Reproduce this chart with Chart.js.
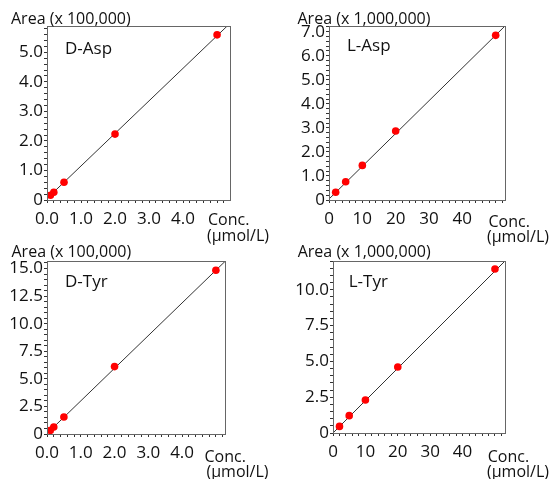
<!DOCTYPE html>
<html>
<head>
<meta charset="utf-8">
<script src="https://cdn.jsdelivr.net/npm/chart.js@4.4.1/dist/chart.umd.min.js"></script>
<style>
  html, body { margin: 0; padding: 0; background: #fff; }
  #wrap { position: relative; width: 554px; height: 479px; }
  #wrap canvas { position: absolute; left: 0; top: 0; }
</style>
</head>
<body>
<div id="wrap">
  <canvas id="dAsp" width="554" height="479"></canvas>
  <canvas id="lAsp" width="554" height="479"></canvas>
  <canvas id="dTyr" width="554" height="479"></canvas>
  <canvas id="lTyr" width="554" height="479"></canvas>
</div>
<script>
// calibration points, conc in umol/L, area in the unit of each panel title
const dAspConc = [0.1, 0.2, 0.5, 2, 5];
const dAspArea = [0.16, 0.26, 0.60, 2.23, 5.59];
const dAspFitConc = [0, 5.38];
const dAspFitArea = [0.05, 5.98];

const lAspConc = [2, 5, 10, 20, 50];
const lAspArea = [0.32, 0.76, 1.44, 2.87, 6.85];
const lAspFitConc = [0, 52.8];
const lAspFitArea = [0.04, 7.24];

const dTyrConc = [0.1, 0.2, 0.5, 2, 5];
const dTyrArea = [0.33, 0.63, 1.54, 6.11, 14.84];
const dTyrFitConc = [0, 5.27];
const dTyrFitArea = [0.04, 15.64];

const lTyrConc = [2, 5, 10, 20, 50];
const lTyrArea = [0.46, 1.21, 2.30, 4.60, 11.44];
const lTyrFitConc = [0, 53.1];
const lTyrFitArea = [0, 12.0];

// tick labels
const smallConcTicks = [0, 1, 2, 3, 4];
const smallConcLabels = ['0.0', '1.0', '2.0', '3.0', '4.0'];
const bigConcTicks = [0, 10, 20, 30, 40];
const bigConcLabels = ['0', '10', '20', '30', '40'];
const dAspAreaTicks = [0, 1, 2, 3, 4, 5];
const dAspAreaLabels = ['0', '1.0', '2.0', '3.0', '4.0', '5.0'];
const lAspAreaTicks = [0, 1, 2, 3, 4, 5, 6, 7];
const lAspAreaLabels = ['0', '1.0', '2.0', '3.0', '4.0', '5.0', '6.0', '7.0'];
const dTyrAreaTicks = [0, 2.5, 5, 7.5, 10, 12.5, 15];
const dTyrAreaLabels = ['0', '2.5', '5.0', '7.5', '10.0', '12.5', '15.0'];
const lTyrAreaTicks = [0, 2.5, 5, 7.5, 10];
const lTyrAreaLabels = ['0', '2.5', '5.0', '7.5', '10.0'];

const FONT = '"Open Sans", "Noto Sans", sans-serif';
const Y_W = 44, X_H = 30;

const panels = [
  { id: 'dAsp', name: 'D-Asp', title: 'Area (x 100,000)',
    conc: dAspConc, area: dAspArea, fitConc: dAspFitConc, fitArea: dAspFitArea,
    xMax: 5.38, xMinor: 0.2, xTicks: smallConcTicks, xLabels: smallConcLabels,
    yMax: 5.89, yMinor: 0.2, yTicks: dAspAreaTicks, yLabels: dAspAreaLabels,
    box: { l: 47, t: 26, r: 230, b: 200 },
    titlePos: [11, 23.5], namePos: [65, 54], concPos: [208, 225], unitPos: [207, 240.5] },
  { id: 'lAsp', name: 'L-Asp', title: 'Area (x 1,000,000)',
    conc: lAspConc, area: lAspArea, fitConc: lAspFitConc, fitArea: lAspFitArea,
    xMax: 52.8, xMinor: 2, xTicks: bigConcTicks, xLabels: bigConcLabels,
    yMax: 7.24, yMinor: 0.2, yTicks: lAspAreaTicks, yLabels: lAspAreaLabels,
    box: { l: 329, t: 26, r: 505, b: 200 },
    titlePos: [297.5, 23.5], namePos: [347, 50.5], concPos: [488.5, 226.5], unitPos: [487, 242] },
  { id: 'dTyr', name: 'D-Tyr', title: 'Area (x 100,000)',
    conc: dTyrConc, area: dTyrArea, fitConc: dTyrFitConc, fitArea: dTyrFitArea,
    xMax: 5.27, xMinor: 0.2, xTicks: smallConcTicks, xLabels: smallConcLabels,
    yMax: 15.68, yMinor: 0.5, yTicks: dTyrAreaTicks, yLabels: dTyrAreaLabels,
    box: { l: 47, t: 261, r: 225, b: 434 },
    titlePos: [11.5, 256.7], namePos: [65, 286.7], concPos: [204.5, 461.7], unitPos: [206.5, 477] },
  { id: 'lTyr', name: 'L-Tyr', title: 'Area (x 1,000,000)',
    conc: lTyrConc, area: lTyrArea, fitConc: lTyrFitConc, fitArea: lTyrFitArea,
    xMax: 53.1, xMinor: 2, xTicks: bigConcTicks, xLabels: bigConcLabels,
    yMax: 12.0, yMinor: 0.5, yTicks: lTyrAreaTicks, yLabels: lTyrAreaLabels,
    box: { l: 333, t: 261, r: 505, b: 433 },
    titlePos: [297.7, 257], namePos: [348.7, 286.7], concPos: [487.7, 461.7], unitPos: [487, 477] }
];

// frame round the plot plus the free texts
const frameAndText = {
  id: 'frameAndText',
  afterDraw(chart) {
    const p = chart.options.plugins.frameAndText;
    const { ctx, chartArea: a } = chart;
    ctx.save();
    ctx.strokeStyle = '#666';
    ctx.lineWidth = 1;
    const l = Math.round(a.left - 0.5) + 0.5, r = Math.round(a.right - 0.5) + 0.5;
    const t = Math.round(a.top - 0.5) + 0.5, b = Math.round(a.bottom - 0.5) + 0.5;
    ctx.strokeRect(l, t, r - l, b - t);
    ctx.fillStyle = '#111';
    ctx.textBaseline = 'alphabetic';
    ctx.textAlign = 'left';
    ctx.font = '16px ' + FONT;
    ctx.fillText(p.title, p.titlePos[0], p.titlePos[1]);
    ctx.fillText('Conc.', p.concPos[0], p.concPos[1]);
    ctx.fillText('(\u00b5mol/L)', p.unitPos[0], p.unitPos[1]);
    ctx.font = '17px ' + FONT;
    ctx.fillText(p.name, p.namePos[0], p.namePos[1]);
    ctx.restore();
  }
};

function minorTicks(step) {
  return scale => {
    const t = [];
    for (let i = 0; i * step <= scale.max + 1e-9; i++) t.push({ value: +(i * step).toFixed(4) });
    scale.ticks = t;
  };
}

function labelFor(vals, labels) {
  return value => {
    const i = vals.findIndex(v => Math.abs(v - value) < 1e-6);
    return i < 0 ? '' : labels[i];
  };
}

function axis(max, step, vals, labels, isX) {
  return {
    type: 'linear',
    min: 0,
    max: max,
    afterBuildTicks: minorTicks(step),
    afterFit: s => { if (isX) s.height = X_H; else s.width = Y_W; },
    border: { display: true, color: '#555', width: 1 },
    grid: { display: true, drawOnChartArea: false, drawTicks: true, tickLength: 3, color: '#333' },
    ticks: {
      autoSkip: false, maxRotation: 0, minRotation: 0,
      padding: isX ? 6 : 1,
      color: '#111',
      font: { family: FONT, size: 17 },
      callback: labelFor(vals, labels)
    }
  };
}

panels.forEach(p => {
  new Chart(document.getElementById(p.id), {
    type: 'scatter',
    data: {
      datasets: [
        {
          data: p.conc.map((c, i) => ({ x: c, y: p.area[i] })),
          pointRadius: 3.8,
          pointBackgroundColor: '#ff0000',
          pointBorderWidth: 0,
          showLine: false
        },
        {
          data: p.fitConc.map((c, i) => ({ x: c, y: p.fitArea[i] })),
          showLine: true,
          pointRadius: 0,
          borderColor: '#333',
          borderWidth: 1
        }
      ]
    },
    options: {
      responsive: false,
      animation: false,
      devicePixelRatio: 1,
      events: [],
      layout: { padding: { left: p.box.l - Y_W, right: 554 - p.box.r, top: p.box.t, bottom: 479 - p.box.b - X_H } },
      scales: {
        x: axis(p.xMax, p.xMinor, p.xTicks, p.xLabels, true),
        y: axis(p.yMax, p.yMinor, p.yTicks, p.yLabels, false)
      },
      plugins: {
        legend: { display: false },
        tooltip: { enabled: false },
        frameAndText: p
      }
    },
    plugins: [frameAndText]
  });
});
</script>
</body>
</html>
